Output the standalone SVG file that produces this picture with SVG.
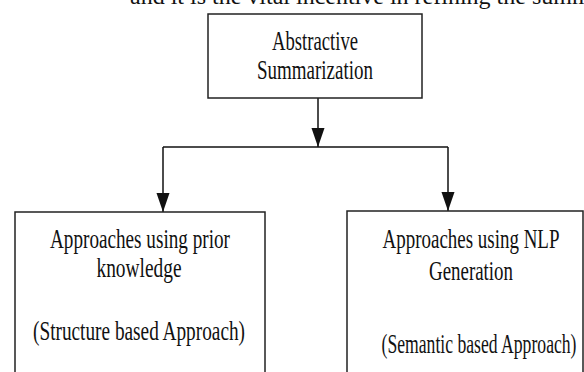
<svg xmlns="http://www.w3.org/2000/svg" width="584" height="372" viewBox="0 0 584 372">
<defs>
<style>
.box{fill:#fff;stroke:#222;stroke-width:1.5}
.lbl{font-family:"Liberation Serif","Times New Roman",serif;font-size:27px;fill:#111;text-anchor:middle}
.ln{fill:none;stroke:#111;stroke-width:1.5}
.para{font-family:"Liberation Serif","Times New Roman",serif;font-size:24px;fill:#111}
</style>
<marker id="ah" markerUnits="userSpaceOnUse" markerWidth="20" markerHeight="14" refX="19" refY="6.5" orient="auto">
<path d="M0,0 L19,6.5 L0,13 z" fill="#111"/>
</marker>
</defs>
<rect width="584" height="372" fill="#fff"/>
<text class="para" x="130" y="4">and it is the vital incentive in refining the summarization</text>
<g id="connectors">
<path class="ln" d="M318,98 L318,147" marker-end="url(#ah)"/>
<path class="ln" d="M163,147 L448,147"/>
<path class="ln" d="M163,147 L163,212" marker-end="url(#ah)"/>
<path class="ln" d="M448,147 L448,211" marker-end="url(#ah)"/>
</g>
<g id="n-abstractive">
<rect class="box" x="208" y="14" width="214" height="84"/>
<text class="lbl" x="315" y="50" textLength="86" lengthAdjust="spacingAndGlyphs">Abstractive</text>
<text class="lbl" x="315" y="79" textLength="116" lengthAdjust="spacingAndGlyphs">Summarization</text>
</g>
<g id="n-prior">
<rect class="box" x="15" y="212" width="250" height="200"/>
<text class="lbl" x="140" y="248" textLength="180" lengthAdjust="spacingAndGlyphs">Approaches using prior</text>
<text class="lbl" x="139" y="277" textLength="85" lengthAdjust="spacingAndGlyphs">knowledge</text>
<text class="lbl" x="139" y="340" textLength="212" lengthAdjust="spacingAndGlyphs">(Structure based Approach)</text>
</g>
<g id="n-nlp">
<rect class="box" x="347" y="211" width="236" height="200"/>
<text class="lbl" x="471" y="248" textLength="177" lengthAdjust="spacingAndGlyphs">Approaches using NLP</text>
<text class="lbl" x="471" y="280" textLength="84" lengthAdjust="spacingAndGlyphs">Generation</text>
<text class="lbl" x="479" y="353" textLength="195" lengthAdjust="spacingAndGlyphs">(Semantic based Approach)</text>
</g>
</svg>
